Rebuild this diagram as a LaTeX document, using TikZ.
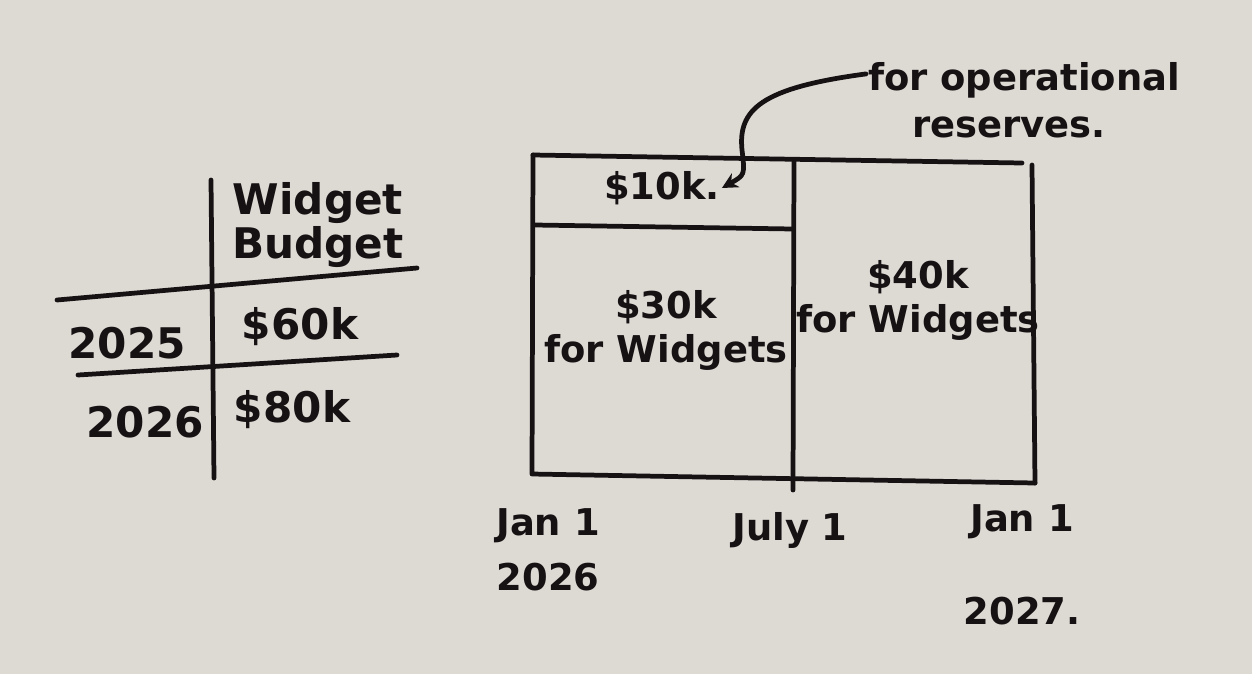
\documentclass[tikz,border=0pt]{standalone}
\usepackage{fontspec}
\setmainfont{DejaVu Sans}
\usepackage{tikz}
\usetikzlibrary{positioning, arrows.meta}
\usepackage{xcolor}
\definecolor{paper}{RGB}{221,217,211}
\definecolor{ink}{RGB}{22,18,20}

\begin{document}
\begin{tikzpicture}[x=0.02cm, y=-0.02cm,
    pen/.style={draw=ink, line width=2.7pt, line cap=round, line join=round},
    hand/.style={text=ink, font=\fontsize{24}{27}\selectfont\bfseries, inner sep=1pt, align=center},
    small/.style={hand, font=\fontsize{21}{25}\selectfont\bfseries}]
        \fill[paper] (0,0) rectangle (1252,674);
        \useasboundingbox (0,0) rectangle (1252,674);

        % Budget table
        \coordinate (vt) at (211,180);
        \coordinate (vb) at (214,478);
        \coordinate (h1l) at (57,300);
        \coordinate (h1r) at (417,268);
        \coordinate (h2l) at (78,375);
        \coordinate (h2r) at (397,355);
        \draw[pen] (vt) -- (vb);
        \draw[pen] (h1l) -- (h1r);
        \draw[pen] (h2l) -- (h2r);

        \node[hand] (head) at (318,225) {Widget\\[-2pt]Budget};
        \node[hand] (y25)  at (127,343) {2025};
        \node[hand] (b25)  at (300,327) {\$60k};
        \node[hand] (y26)  at (145,422) {2026};
        \node[hand] (b26)  at (292,410) {\$80k};

        % Timeline block
        \coordinate (tl) at (533,155);
        \coordinate (tr) at (1022,163);
        \coordinate (rt) at (1032,165);
        \coordinate (br) at (1035,483);
        \coordinate (bl) at (532,474);
        \coordinate (mt) at (794,160);
        \coordinate (mb) at (793,490);
        \coordinate (sl) at (535,225);
        \coordinate (sr) at (793,229);
        \draw[pen] (tl) -- (tr);
        \draw[pen] (rt) -- (br);
        \draw[pen] (tl) -- (bl) -- (br);
        \draw[pen] (mt) -- (mb);
        \draw[pen] (sl) -- (sr);

        \node[small] (tenk)  at (662,188) {\$10k.};
        \node[small] (left)  at (666,330) {\$30k\\for Widgets};
        \node[small] (right) at (918,300) {\$40k\\for Widgets};

        \node[small, align=left] (ops) at (1024,100) {for operational\\[2pt]\hspace*{1.2em}reserves.};
        \draw[pen, ->, >={Stealth[length=9pt,width=9pt]}]
            (ops.north west) ++(0,14) .. controls (760,88) and (738,110) .. (742,150)
            .. controls (745,175) .. (tenk.east);

        % Dates under the block
        \node[small] (jan26) at (548,550) {Jan 1\\[6pt]2026};
        \node[small] (jul)   at (790,530) {July 1};
        \node[small] (jan27) at (1022,565) {Jan 1\\[28pt]2027.};
\end{tikzpicture}
\end{document}
